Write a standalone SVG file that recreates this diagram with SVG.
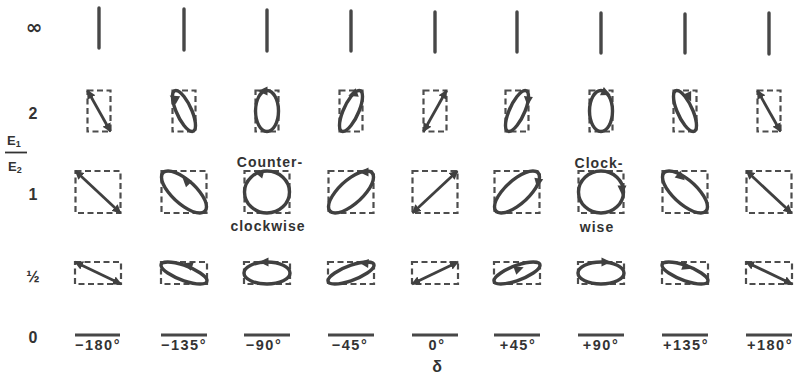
<svg xmlns="http://www.w3.org/2000/svg" width="799" height="378" viewBox="0 0 799 378">
<defs>
<style>
.box{fill:none;stroke:#4d4d4d;stroke-width:2.2;stroke-dasharray:6 3.5}
.vl{stroke:#474747;stroke-width:3.4;stroke-linecap:round}
.hl{stroke:#474747;stroke-width:2.8;stroke-linecap:butt}
.ell{fill:none;stroke:#404040;stroke-width:3.4;vector-effect:non-scaling-stroke}
.lin{stroke:#404040;stroke-width:2.8}
.ah{fill:#404040}
.t{font-family:"Liberation Sans",Arial,sans-serif;fill:#333}
.deg{font-size:14.5px;letter-spacing:1.5px;text-anchor:middle;font-weight:bold}
.lab{font-size:14px;text-anchor:middle;font-weight:bold;letter-spacing:1px}
.rl{font-size:16px;text-anchor:middle;font-weight:bold}
</style>
<marker id="ah" viewBox="0 0 10 10" refX="9" refY="5" markerWidth="3.2" markerHeight="3.2" orient="auto-start-reverse" markerUnits="strokeWidth"><path d="M0,0 L10,5 L0,10 z" fill="#404040"/></marker>
<path id="hd" d="M5,0 L-4.5,-4.5 L-4.5,4.5 z"/>
</defs>
<rect width="799" height="378" fill="#fff"/>

<g id="row-labels" class="t">
<text x="34" y="34" class="rl" style="font-family:'DejaVu Sans',sans-serif;font-size:20px">∞</text>
<text x="33" y="119" class="rl">2</text>
<text x="33" y="200" class="rl">1</text>
<text x="33" y="282" class="rl">½</text>
<text x="33" y="343" class="rl">0</text>
</g>
<g id="ratio-label" class="t">
<text x="7" y="145" style="font-size:13px;font-weight:bold">E<tspan dy="2" style="font-size:9px">1</tspan></text>
<line x1="5" y1="152.5" x2="27" y2="152.5" stroke="#333" stroke-width="1.8"/>
<text x="8" y="171" style="font-size:13px;font-weight:bold">E<tspan dy="2" style="font-size:9px">2</tspan></text>
</g>

<g id="row-inf">
<line class="vl" x1="99" y1="8" x2="99" y2="48"/>
<line class="vl" x1="184" y1="9" x2="184" y2="50"/>
<line class="vl" x1="267" y1="10" x2="267" y2="51"/>
<line class="vl" x1="351" y1="11" x2="351" y2="51"/>
<line class="vl" x1="435" y1="12" x2="435" y2="52"/>
<line class="vl" x1="517" y1="12" x2="517" y2="52"/>
<line class="vl" x1="601" y1="13" x2="601" y2="53"/>
<line class="vl" x1="685" y1="14" x2="685" y2="53"/>
<line class="vl" x1="769" y1="13" x2="769" y2="54"/>
</g>

<g id="row-2">
<g id="r2-m180"><rect class="box" x="87.5" y="90.5" width="23" height="41"/><line class="lin" x1="87.5" y1="90.5" x2="110.5" y2="131.5" marker-start="url(#ah)" marker-end="url(#ah)"/></g>
<g id="r2-m135"><rect class="box" x="172.5" y="90.5" width="23" height="41"/><circle class="ell" r="1" transform="matrix(11.5,14.5,0,-14.5,184,111)"/><use href="#hd" class="ah" transform="translate(174,98) rotate(210)"/></g>
<g id="r2-m90"><rect class="box" x="255.5" y="90.5" width="23" height="41"/><circle class="ell" r="1" transform="matrix(11.5,0,0,-20.5,267,111)"/><use href="#hd" class="ah" transform="translate(263,91) rotate(180)"/></g>
<g id="r2-m45"><rect class="box" x="339.5" y="90.5" width="23" height="41"/><circle class="ell" r="1" transform="matrix(11.5,-14.5,0,-14.5,351,111)"/><use href="#hd" class="ah" transform="translate(353,94) rotate(160)"/></g>
<g id="r2-0"><rect class="box" x="423.5" y="90.5" width="23" height="41"/><line class="lin" x1="423.5" y1="131.5" x2="446.5" y2="90.5" marker-start="url(#ah)" marker-end="url(#ah)"/></g>
<g id="r2-p45"><rect class="box" x="505.5" y="90.5" width="23" height="41"/><circle class="ell" r="1" transform="matrix(11.5,-14.5,0,14.5,517,111)"/><use href="#hd" class="ah" transform="translate(528,101) rotate(95)"/></g>
<g id="r2-p90"><rect class="box" x="589.5" y="90.5" width="23" height="41"/><circle class="ell" r="1" transform="matrix(11.5,0,0,20.5,601,111)"/><use href="#hd" class="ah" transform="translate(606,93) rotate(25)"/></g>
<g id="r2-p135"><rect class="box" x="673.5" y="90.5" width="23" height="41"/><circle class="ell" r="1" transform="matrix(11.5,14.5,0,14.5,685,111)"/><use href="#hd" class="ah" transform="translate(689,97) rotate(65)"/></g>
<g id="r2-p180"><rect class="box" x="757.5" y="90.5" width="23" height="41"/><line class="lin" x1="757.5" y1="90.5" x2="780.5" y2="131.5" marker-start="url(#ah)" marker-end="url(#ah)"/></g>
</g>

<g id="row-1">
<g id="r1-m180"><rect class="box" x="75.5" y="171" width="45" height="42"/><line class="lin" x1="75.5" y1="171" x2="120.5" y2="213" marker-start="url(#ah)" marker-end="url(#ah)"/></g>
<g id="r1-m135"><rect class="box" x="161.5" y="171" width="45" height="42"/><circle class="ell" r="1" transform="matrix(22.5,14.85,0,-14.85,184,192)"/><use href="#hd" class="ah" transform="translate(186,181) rotate(225)"/></g>
<g id="r1-m90"><rect class="box" x="244.5" y="171" width="45" height="42"/><circle class="ell" r="1" transform="matrix(22.5,0,0,-21,267,192)"/><use href="#hd" class="ah" transform="translate(259,173) rotate(195)"/></g>
<g id="r1-m45"><rect class="box" x="328.5" y="171" width="45" height="42"/><circle class="ell" r="1" transform="matrix(22.5,-14.85,0,-14.85,351,192)"/><use href="#hd" class="ah" transform="translate(364,172) rotate(180)"/></g>
<g id="r1-0"><rect class="box" x="412.5" y="171" width="45" height="42"/><line class="lin" x1="412.5" y1="213" x2="457.5" y2="171" marker-start="url(#ah)" marker-end="url(#ah)"/></g>
<g id="r1-p45"><rect class="box" x="494.5" y="171" width="45" height="42"/><circle class="ell" r="1" transform="matrix(22.5,-14.85,0,14.85,517,192)"/><use href="#hd" class="ah" transform="translate(538,183) rotate(100)"/></g>
<g id="r1-p90"><rect class="box" x="578.5" y="171" width="45" height="42"/><circle class="ell" r="1" transform="matrix(22.5,0,0,21,601,192)"/><use href="#hd" class="ah" transform="translate(622,190) rotate(90)"/></g>
<g id="r1-p135"><rect class="box" x="662.5" y="171" width="45" height="42"/><circle class="ell" r="1" transform="matrix(22.5,14.85,0,14.85,685,192)"/><use href="#hd" class="ah" transform="translate(681,177) rotate(40)"/></g>
<g id="r1-p180"><rect class="box" x="746.5" y="171" width="45" height="42"/><line class="lin" x1="746.5" y1="171" x2="791.5" y2="213" marker-start="url(#ah)" marker-end="url(#ah)"/></g>
</g>

<g id="row-half">
<g id="rh-m180"><rect class="box" x="75" y="262" width="46" height="22"/><line class="lin" x1="75" y1="262" x2="121" y2="284" marker-start="url(#ah)" marker-end="url(#ah)"/></g>
<g id="rh-m135"><rect class="box" x="161" y="262" width="46" height="22"/><circle class="ell" r="1" transform="matrix(23,7.78,0,-7.78,184,273)"/><use href="#hd" class="ah" transform="translate(188,265) rotate(200)"/></g>
<g id="rh-m90"><rect class="box" x="244" y="262" width="46" height="22"/><circle class="ell" r="1" transform="matrix(23,0,0,-11,267,273)"/><use href="#hd" class="ah" transform="translate(264,262) rotate(180)"/></g>
<g id="rh-m45"><rect class="box" x="328" y="262" width="46" height="22"/><circle class="ell" r="1" transform="matrix(23,-7.78,0,-7.78,351,273)"/><use href="#hd" class="ah" transform="translate(364,263) rotate(185)"/></g>
<g id="rh-0"><rect class="box" x="412" y="262" width="46" height="22"/><line class="lin" x1="412" y1="284" x2="458" y2="262" marker-start="url(#ah)" marker-end="url(#ah)"/></g>
<g id="rh-p45"><rect class="box" x="494" y="262" width="46" height="22"/><circle class="ell" r="1" transform="matrix(23,-7.78,0,7.78,517,273)"/><use href="#hd" class="ah" transform="translate(519,269) rotate(-20)"/></g>
<g id="rh-p90"><rect class="box" x="578" y="262" width="46" height="22"/><circle class="ell" r="1" transform="matrix(23,0,0,11,601,273)"/><use href="#hd" class="ah" transform="translate(606,262) rotate(0)"/></g>
<g id="rh-p135"><rect class="box" x="662" y="262" width="46" height="22"/><circle class="ell" r="1" transform="matrix(23,7.78,0,7.78,685,273)"/><use href="#hd" class="ah" transform="translate(687,267) rotate(20)"/></g>
<g id="rh-p180"><rect class="box" x="746" y="262" width="46" height="22"/><line class="lin" x1="746" y1="262" x2="792" y2="284" marker-start="url(#ah)" marker-end="url(#ah)"/></g>
</g>

<g id="row-0">
<line class="hl" x1="75" y1="335" x2="120" y2="335"/>
<line class="hl" x1="161" y1="335" x2="207" y2="335"/>
<line class="hl" x1="244" y1="335" x2="290" y2="335"/>
<line class="hl" x1="328" y1="335" x2="374" y2="335"/>
<line class="hl" x1="412" y1="335" x2="458" y2="335"/>
<line class="hl" x1="494" y1="335" x2="540" y2="335"/>
<line class="hl" x1="578" y1="335" x2="624" y2="335"/>
<line class="hl" x1="662" y1="335" x2="708" y2="335"/>
<line class="hl" x1="746" y1="335" x2="792" y2="335"/>
</g>

<g id="phase-labels" class="t deg">
<text x="98" y="350">−180°</text>
<text x="184" y="350">−135°</text>
<text x="264" y="350">−90°</text>
<text x="350" y="350">−45°</text>
<text x="437" y="350">0°</text>
<text x="518" y="350">+45°</text>
<text x="601" y="350">+90°</text>
<text x="686" y="350">+135°</text>
<text x="770" y="350">+180°</text>
<text x="437" y="372" style="font-size:16px;letter-spacing:0">δ</text>
</g>

<g id="sense-labels" class="t lab">
<text x="270" y="167">Counter-</text>
<text x="268" y="231">clockwise</text>
<text x="599" y="168">Clock-</text>
<text x="597" y="232">wise</text>
</g>
</svg>
